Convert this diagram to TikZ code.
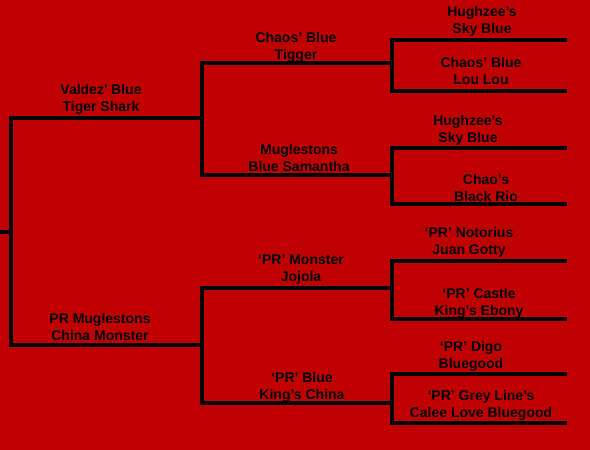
\documentclass[tikz,border=0pt]{standalone}
\usepackage{fontspec}
\setmainfont{Liberation Sans}
\usepackage{xcolor}
\usetikzlibrary{positioning}
\definecolor{pedred}{RGB}{192,0,0}

\begin{document}
\begin{tikzpicture}[x=1pt, y=-1pt, font=\bfseries\fontsize{14}{17}\selectfont,
		link/.style={line width=4pt, line join=miter},
		dog/.style={align=center, inner sep=0pt}]
		% Background
		\useasboundingbox (0,0) rectangle (590,450);
		\fill[pedred] (-3,-3) rectangle (593,453);

		% Parents
		\coordinate (root) at (0,232);
		\coordinate (sire) at (11,118); \coordinate (dam) at (11,345);
		\coordinate (s) at (202,118); \coordinate (d) at (202,345);

		% Grandparents
		\coordinate (ss) at (202,63); \coordinate (sd) at (202,175);
		\coordinate (ds) at (202,288); \coordinate (dd) at (202,403);
		\coordinate (ss2) at (392,63); \coordinate (sd2) at (392,175);
		\coordinate (ds2) at (392,288); \coordinate (dd2) at (392,403);

		% Great-grandparents
		\coordinate (sss) at (392,40); \coordinate (ssd) at (392,91);
		\coordinate (sds) at (392,148); \coordinate (sdd) at (392,204);
		\coordinate (dss) at (392,261); \coordinate (dsd) at (392,319);
		\coordinate (dds) at (392,374); \coordinate (ddd) at (392,423);
		\coordinate (sss3) at (567,40); \coordinate (ssd3) at (567,91);
		\coordinate (sds3) at (567,148); \coordinate (sdd3) at (567,204);
		\coordinate (dss3) at (567,261); \coordinate (dsd3) at (567,319);
		\coordinate (dds3) at (567,374); \coordinate (ddd3) at (567,423);

		% Brackets
		\draw[link] (root) -- (root -| sire);
		\draw[link] (s) -- (sire) -- (dam) -- (d);
		\draw[link] (ss2) -- (ss) -- (sd) -- (sd2);
		\draw[link] (ds2) -- (ds) -- (dd) -- (dd2);
		\draw[link] (sss3) -- (sss) -- (ssd) -- (ssd3);
		\draw[link] (sds3) -- (sds) -- (sdd) -- (sdd3);
		\draw[link] (dss3) -- (dss) -- (dsd) -- (dsd3);
		\draw[link] (dds3) -- (dds) -- (ddd) -- (ddd3);

		% Names
		\node[dog] (tigershark) at (101,99) {Valdez\textquotesingle{} Blue\\Tiger Shark};
		\node[dog] (chinamonster) at (100,327) {PR Muglestons\\China Monster};
		\node[dog] (tigger) at (296,47) {Chaos’ Blue\\Tigger};
		\node[dog] (samantha) at (299,158) {Muglestons\\Blue Samantha};
		\node[dog] (jojola) at (301,270) {‘PR’ Monster\\Jojola};
		\node[dog] (kingschina) at (302,387) {‘PR’ Blue\\King’s China};
		\node[dog] (skyblue) at (482,21) {Hughzee’s\\Sky Blue};
		\node[dog] (loulou) at (481,71) {Chaos’ Blue\\Lou Lou};
		\node[dog] (skyblue2) at (468,130) {Hughzee’s\\Sky Blue};
		\node[dog] (blackrio) at (486,188) {Chao’s\\Black Rio};
		\node[dog] (juangotty) at (469,242) {‘PR’ Notorius\\Juan Gotty};
		\node[dog] (kingsebony) at (479,303.5) {‘PR’ Castle\\King’s Ebony};
		\node[dog] (digo) at (471,356) {‘PR’ Digo\\Bluegood};
		\node[dog] (calee) at (481,405) {‘PR’ Grey Line’s\\Calee Love Bluegood};
	\end{tikzpicture}
\end{document}
